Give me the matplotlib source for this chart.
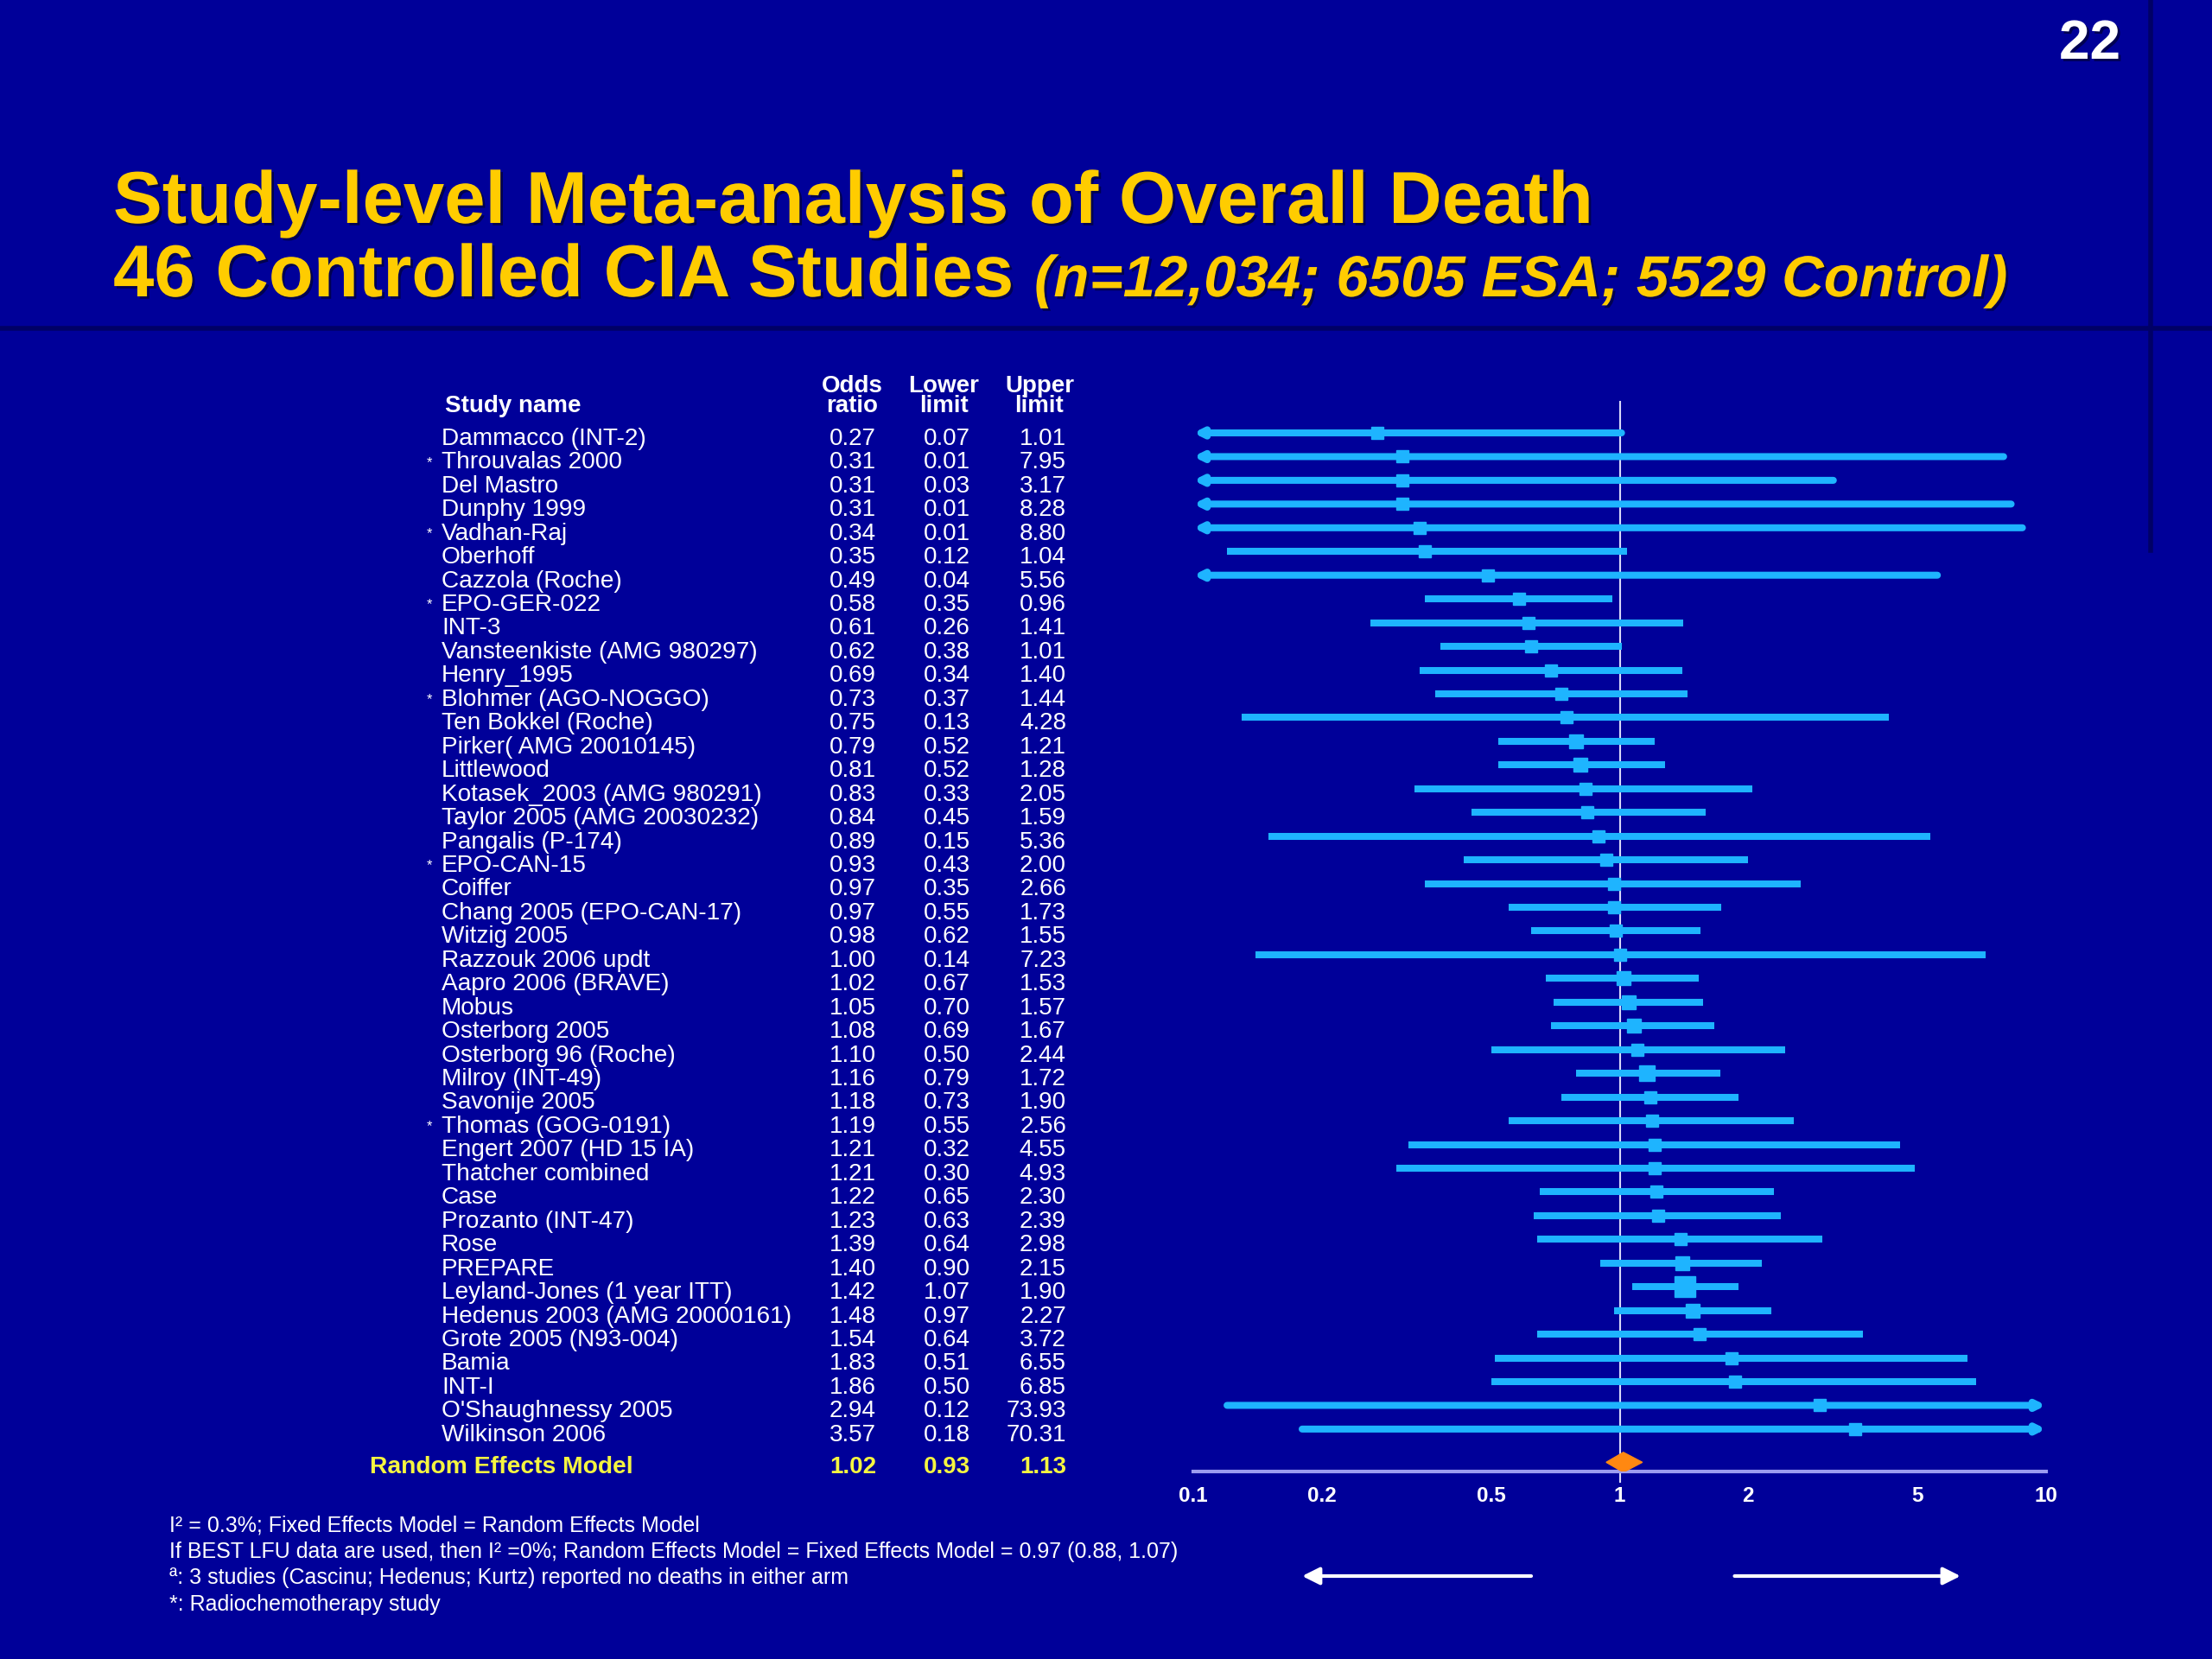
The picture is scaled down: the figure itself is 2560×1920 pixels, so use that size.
import numpy as np
import matplotlib.pyplot as plt
import matplotlib.transforms as mtransforms
import matplotlib.patheffects as pe

# study rows, top to bottom
studies = ['Dammacco (INT-2)', 'Throuvalas 2000', 'Del Mastro', 'Dunphy 1999', 'Vadhan-Raj',
           'Oberhoff', 'Cazzola (Roche)', 'EPO-GER-022', 'INT-3', 'Vansteenkiste (AMG 980297)',
           'Henry_1995', 'Blohmer (AGO-NOGGO)', 'Ten Bokkel (Roche)', 'Pirker( AMG 20010145)',
           'Littlewood', 'Kotasek_2003 (AMG 980291)', 'Taylor 2005 (AMG 20030232)',
           'Pangalis (P-174)', 'EPO-CAN-15', 'Coiffer', 'Chang 2005 (EPO-CAN-17)', 'Witzig 2005',
           'Razzouk 2006 updt', 'Aapro 2006 (BRAVE)', 'Mobus', 'Osterborg 2005',
           'Osterborg 96 (Roche)', 'Milroy (INT-49)', 'Savonije 2005', 'Thomas (GOG-0191)',
           'Engert 2007 (HD 15 IA)', 'Thatcher combined', 'Case', 'Prozanto (INT-47)', 'Rose',
           'PREPARE', 'Leyland-Jones (1 year ITT)', 'Hedenus 2003 (AMG 20000161)',
           'Grote 2005 (N93-004)', 'Bamia', 'INT-I', "O'Shaughnessy 2005", 'Wilkinson 2006']
odds = [0.27, 0.31, 0.31, 0.31, 0.34, 0.35, 0.49, 0.58, 0.61, 0.62, 0.69, 0.73, 0.75, 0.79,
        0.81, 0.83, 0.84, 0.89, 0.93, 0.97, 0.97, 0.98, 1.00, 1.02, 1.05, 1.08, 1.10, 1.16,
        1.18, 1.19, 1.21, 1.21, 1.22, 1.23, 1.39, 1.40, 1.42, 1.48, 1.54, 1.83, 1.86, 2.94, 3.57]
lower = [0.07, 0.01, 0.03, 0.01, 0.01, 0.12, 0.04, 0.35, 0.26, 0.38, 0.34, 0.37, 0.13, 0.52,
         0.52, 0.33, 0.45, 0.15, 0.43, 0.35, 0.55, 0.62, 0.14, 0.67, 0.70, 0.69, 0.50, 0.79,
         0.73, 0.55, 0.32, 0.30, 0.65, 0.63, 0.64, 0.90, 1.07, 0.97, 0.64, 0.51, 0.50, 0.12, 0.18]
upper = [1.01, 7.95, 3.17, 8.28, 8.80, 1.04, 5.56, 0.96, 1.41, 1.01, 1.40, 1.44, 4.28, 1.21,
         1.28, 2.05, 1.59, 5.36, 2.00, 2.66, 1.73, 1.55, 7.23, 1.53, 1.57, 1.67, 2.44, 1.72,
         1.90, 2.56, 4.55, 4.93, 2.30, 2.39, 2.98, 2.15, 1.90, 2.27, 3.72, 6.55, 6.85, 73.93, 70.31]
radiochemo = ['Throuvalas 2000', 'Vadhan-Raj', 'EPO-GER-022', 'Blohmer (AGO-NOGGO)',
              'EPO-CAN-15', 'Thomas (GOG-0191)']
pooled_label = 'Random Effects Model'
pooled = [1.02, 0.93, 1.13]
ticks = [0.1, 0.2, 0.5, 1, 2, 5, 10]
tick_labels = ['0.1', '0.2', '0.5', '1', '2', '5', '10']
footnotes = ['I\u00b2 = 0.3%; Fixed Effects Model = Random Effects Model',
             'If BEST LFU data are used, then I\u00b2 =0%; Random Effects Model = Fixed Effects Model = 0.97 (0.88, 1.07)',
             '\u00aa: 3 studies (Cascinu; Hedenus; Kurtz) reported no deaths in either arm',
             '*: Radiochemotherapy study']

bg = '#000099'
cyan = '#1EB4FF'
W, H = 2560, 1920
plt.rcParams['font.family'] = ['Liberation Sans', 'DejaVu Sans']
narrow = ['Liberation Sans Narrow', 'Liberation Sans', 'DejaVu Sans']
shadow = [pe.withSimplePatchShadow(offset=(2, -2), shadow_rgbFace='#000033', alpha=0.7)]

fig = plt.figure(figsize=(25.6, 19.2), dpi=100, facecolor=bg)

def fx(x):
    return x / W

def fy(y):
    return 1 - y / H

# slide decorations
fig.add_artist(plt.Line2D([0, 1], [fy(380), fy(380)], color='#000066', lw=4))
fig.add_artist(plt.Line2D([fx(2489), fx(2489)], [1, fy(637)], color='#000066', lw=4))
fig.text(fx(2454), fy(51), '22', color='white', fontsize=46, fontweight='bold',
         ha='right', va='center', path_effects=shadow)
fig.text(fx(131), fy(258), 'Study-level Meta-analysis of Overall Death', color='#FFCC00',
         fontsize=61.3, fontweight='bold', va='baseline', path_effects=shadow)
fig.text(fx(131), fy(343), '46 Controlled CIA Studies', color='#FFCC00',
         fontsize=61.3, fontweight='bold', va='baseline', path_effects=shadow)
fig.text(fx(1197), fy(343), '(n=12,034; 6505 ESA; 5529 Control)', color='#FFCC00',
         fontsize=48.4, fontweight='bold', style='italic', va='baseline', path_effects=shadow)

# forest plot axes
n = len(studies)
step = 27.45
row0 = 501
ax = fig.add_axes([fx(1381), fy(1703), fx(2368) - fx(1381), (1703 - 465) / H])
ax.set_facecolor(bg)
ax.set_xscale('log')
ax.set_xlim(0.1, 10)
ax.set_ylim((1703 - row0) / step, (465 - row0) / step)
for s in ['top', 'left', 'right']:
    ax.spines[s].set_visible(False)
ax.spines['bottom'].set_color('#9C9CF0')
ax.spines['bottom'].set_linewidth(3)
ax.set_yticks([])
ax.set_xticks(ticks)
ax.set_xticklabels(tick_labels)
ax.minorticks_off()
ax.tick_params(axis='x', length=0, pad=12, labelsize=17.5, labelcolor='white')
for t in ax.get_xticklabels():
    t.set_fontweight('bold')
ax.axvline(1, ymin=-0.01, ymax=1, color='#D8D8F8', lw=1.5, clip_on=False, zorder=1)

# weights from CI width for square size
se = (np.log(upper) - np.log(lower)) / 3.92
w = 1 / se ** 2
side = np.maximum(10.5, 17 * np.sqrt(w / w.max()))

for i in range(n):
    lo = max(lower[i], 0.1)
    hi = min(upper[i], 10)
    if lower[i] < 0.1 and upper[i] <= 10:
        ax.annotate('', xy=(0.1, i), xytext=(hi, i),
                    arrowprops=dict(arrowstyle='-|>', color=cyan, lw=5.8, shrinkA=0, shrinkB=0,
                                    mutation_scale=13))
    elif upper[i] > 10:
        ax.annotate('', xy=(10, i), xytext=(lo, i),
                    arrowprops=dict(arrowstyle='-|>', color=cyan, lw=5.8, shrinkA=0, shrinkB=0,
                                    mutation_scale=13))
    else:
        ax.plot([lo, hi], [i, i], color=cyan, lw=5.8, solid_capstyle='butt', zorder=2)
    ax.plot(odds[i], i, marker='s', ms=side[i], color=cyan, zorder=3)

prow = n + 0.4
ax.fill([pooled[1], pooled[0], pooled[2], pooled[0]],
        [prow, prow - 0.42, prow, prow + 0.42], color='#FF8811', zorder=4)

# table
tr = mtransforms.blended_transform_factory(fig.transFigure, ax.transData)
hrow = (477 - row0) / step
fig.text(fx(515), hrow, 'Study name', transform=tr, color='white', fontsize=20,
         fontweight='bold', family=narrow, va='baseline')
for xc, head in zip([986, 1092, 1203], ['Odds\nratio', 'Lower\nlimit', 'Upper\nlimit']):
    fig.text(fx(xc), hrow, head, transform=tr, color='white', fontsize=20, fontweight='bold',
             family=narrow, ha='center', va='baseline', linespacing=0.85)
for i in range(n):
    yt = i + 0.25
    if studies[i] in radiochemo:
        fig.text(fx(494), yt, '*', transform=tr, color='white', fontsize=12, family=narrow,
                 va='center')
    fig.text(fx(511), yt, studies[i], transform=tr, color='white', fontsize=20.2,
             family=narrow, va='center')
    for xr, v in zip([1014, 1123, 1234], [odds[i], lower[i], upper[i]]):
        fig.text(fx(xr), yt, '%.2f' % v, transform=tr, color='white', fontsize=20,
                 family=narrow, ha='right', va='center')
fig.text(fx(428), prow + 0.2, pooled_label, transform=tr, color='#F5F540', fontsize=20.3,
         fontweight='bold', family=narrow, va='center')
for xr, v in zip([1014, 1123, 1234], pooled):
    fig.text(fx(xr), prow + 0.2, '%.2f' % v, transform=tr, color='#F5F540', fontsize=20,
             fontweight='bold', family=narrow, ha='right', va='center')

# direction arrows
tb = mtransforms.blended_transform_factory(ax.transData, fig.transFigure)
ax.annotate('', xy=(0.18, fy(1824)), xytext=(0.62, fy(1824)), xycoords=tb, textcoords=tb,
            arrowprops=dict(arrowstyle='-|>', color='white', lw=3, shrinkA=0, shrinkB=0,
                            mutation_scale=30), annotation_clip=False)
ax.annotate('', xy=(6.3, fy(1824)), xytext=(1.86, fy(1824)), xycoords=tb, textcoords=tb,
            arrowprops=dict(arrowstyle='-|>', color='white', lw=3, shrinkA=0, shrinkB=0,
                            mutation_scale=30), annotation_clip=False)

# footnotes
for k, line in enumerate(footnotes):
    fig.text(fx(196), fy(1765 + 30.7 * k), line, color='white', fontsize=18, family=narrow,
             va='center')

fig.savefig('out.png', dpi=100, facecolor=bg)
